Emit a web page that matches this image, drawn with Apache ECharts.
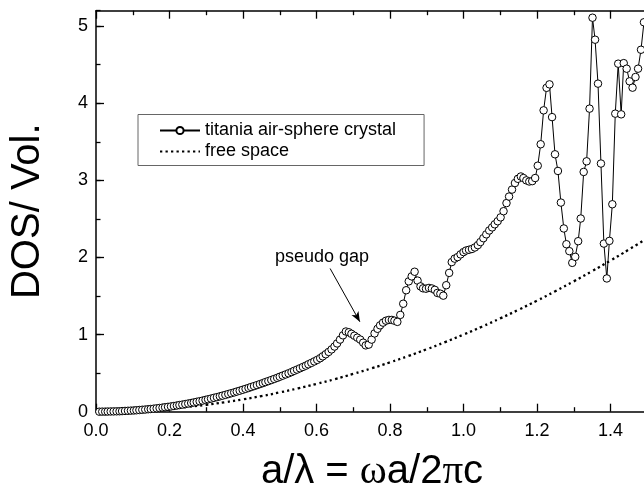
<!DOCTYPE html>
<html><head><meta charset="utf-8">
<script src="https://cdn.jsdelivr.net/npm/echarts@6/dist/echarts.min.js"></script>
<style>html,body{margin:0;padding:0;background:#fff}#c{width:644px;height:490px}</style>
</head><body><div id="c"></div>
<script>
// titania air-sphere crystal: normalized frequency a/lambda and DOS per volume
const freqCrystal = [
0.009,0.017,0.025,0.032,0.040,0.048,0.056,0.064,0.071,0.079,
0.087,0.095,0.103,0.110,0.118,0.126,0.134,0.142,0.149,0.157,
0.165,0.173,0.181,0.188,0.196,0.204,0.212,0.220,0.227,0.235,
0.243,0.251,0.259,0.266,0.274,0.282,0.290,0.298,0.305,0.313,
0.321,0.329,0.337,0.344,0.352,0.360,0.368,0.376,0.383,0.391,
0.399,0.407,0.415,0.422,0.430,0.438,0.446,0.454,0.461,0.469,
0.477,0.485,0.493,0.500,0.508,0.516,0.524,0.532,0.539,0.547,
0.555,0.563,0.571,0.578,0.586,0.594,0.602,0.610,0.617,0.625,
0.633,0.641,0.649,0.656,0.664,0.672,0.680,0.688,0.695,0.703,
0.711,0.719,0.727,0.734,0.742,0.750,0.758,0.766,0.773,0.781,
0.789,0.797,0.805,0.812,0.820,0.828,0.836,0.844,0.851,0.859,
0.867,0.875,0.883,0.890,0.898,0.906,0.914,0.922,0.929,0.937,
0.945,0.953,0.961,0.968,0.976,0.984,0.992,1.000,1.007,1.015,
1.023,1.031,1.039,1.046,1.054,1.062,1.070,1.078,1.085,1.093,
1.101,1.109,1.117,1.124,1.132,1.140,1.148,1.156,1.163,1.171,
1.179,1.187,1.195,1.202,1.210,1.218,1.226,1.234,1.241,1.249,
1.257,1.265,1.273,1.280,1.288,1.296,1.304,1.312,1.319,1.327,
1.335,1.343,1.351,1.358,1.366,1.374,1.382,1.390,1.397,1.405,
1.413,1.421,1.429,1.436,1.444,1.452,1.460,1.468,1.475,1.483,
1.491];
const dosCrystal = [
0.000,0.001,0.001,0.002,0.003,0.004,0.005,0.006,0.008,0.010,
0.012,0.014,0.016,0.019,0.022,0.025,0.028,0.032,0.035,0.039,
0.044,0.048,0.053,0.058,0.063,0.068,0.074,0.080,0.086,0.092,
0.099,0.106,0.113,0.120,0.128,0.136,0.144,0.153,0.161,0.170,
0.180,0.189,0.199,0.208,0.218,0.229,0.240,0.250,0.261,0.272,
0.284,0.296,0.308,0.320,0.332,0.345,0.358,0.371,0.384,0.397,
0.411,0.425,0.439,0.453,0.468,0.483,0.498,0.514,0.530,0.546,
0.563,0.580,0.597,0.615,0.633,0.652,0.672,0.694,0.718,0.745,
0.775,0.808,0.845,0.885,0.935,0.990,1.040,1.030,1.010,0.985,
0.960,0.935,0.895,0.860,0.870,0.935,1.015,1.075,1.120,1.155,
1.180,1.190,1.190,1.180,1.165,1.255,1.400,1.575,1.690,1.755,
1.815,1.700,1.625,1.600,1.595,1.605,1.598,1.580,1.540,1.530,
1.505,1.640,1.800,1.940,1.985,2.005,2.040,2.070,2.090,2.100,
2.110,2.130,2.160,2.200,2.250,2.300,2.350,2.390,2.430,2.470,
2.520,2.600,2.705,2.790,2.880,2.965,3.020,3.050,3.030,3.000,
2.985,2.990,3.030,3.190,3.468,3.908,4.200,4.245,3.820,3.338,
3.122,2.712,2.376,2.172,2.082,1.930,2.008,2.211,2.505,3.109,
3.247,3.930,5.109,4.824,4.254,3.218,2.180,1.728,2.215,2.690,
3.865,4.513,3.856,4.520,4.448,4.284,4.202,4.340,4.448,4.694,
5.050];
// free space DOS (dotted curve)
const freqFree = [0,0.05,0.10,0.15,0.20,0.25,0.30,0.35,0.40,0.45,0.50,0.55,0.60,0.65,0.70,0.75,0.80,0.85,0.90,0.95,1.00,1.05,1.10,1.15,1.20,1.25,1.30,1.35,1.40,1.45,1.50];
const dosFree = [0,0.0025,0.010,0.0225,0.040,0.0625,0.090,0.1225,0.160,0.2025,0.250,0.3025,0.360,0.4225,0.490,0.5625,0.640,0.7225,0.810,0.9025,1.000,1.1025,1.210,1.3225,1.440,1.5625,1.690,1.8225,1.960,2.1025,2.250];
const seriesNames = ['titania air-sphere crystal', 'free space'];
const xTickLabels = ['0.0','0.2','0.4','0.6','0.8','1.0','1.2','1.4'];
const yTickLabels = ['0','1','2','3','4','5'];
const annotationText = 'pseudo gap';
const arrowFrom = [0.637, 1.857];
const arrowTo = [0.718, 1.166];

const FONT = 'Liberation Sans';
const chart = echarts.init(document.getElementById('c'), null, {renderer: 'canvas'});
const crystalData = freqCrystal.map((x, i) => [x, dosCrystal[i]]);
const freeData = freqFree.map((x, i) => [x, dosFree[i]]);

const lineAx = {show: true, onZero: false, lineStyle: {color: '#000', width: 1.5}};
function xAx(extra) {
  return Object.assign({
    type: 'value', min: 0, max: 1.6, interval: 0.2,
    axisLine: lineAx,
    axisTick: {show: true, inside: true, length: 8, lineStyle: {color: '#000', width: 1.3}},
    minorTick: {show: true, splitNumber: 2, length: 4.5, lineStyle: {color: '#000', width: 1.3}},
    splitLine: {show: false}, minorSplitLine: {show: false}
  }, extra);
}
const option = {
  animation: false,
  backgroundColor: '#fff',
  grid: {left: 96, top: 10.7, width: 588, height: 401, containLabel: false, outerBoundsMode: 'none'},
  xAxis: [
    xAx({
      position: 'bottom',
      axisLabel: {show: true, color: '#000', fontFamily: FONT, fontSize: 18, margin: 10,
        formatter: v => { const s = v.toFixed(1); return xTickLabels.indexOf(s) >= 0 ? s : ''; }},
      name: '{t|a/λ = }{s|ω}{t|a/2}{s|π}{t|c}',
      nameLocation: 'middle', nameGap: 40,
      nameTextStyle: {padding: [0, 36, 0, 0], rich: {
        t: {fontFamily: FONT, fontSize: 40, color: '#000'},
        s: {fontFamily: 'Liberation Serif', fontSize: 41, color: '#000'}
      }}
    }),
    xAx({position: 'top', axisLabel: {show: false}})
  ],
  yAxis: [
    {
      type: 'value', min: 0, max: 5.2, interval: 1, position: 'left',
      axisLine: lineAx,
      axisTick: {show: true, inside: true, length: 8, lineStyle: {color: '#000', width: 1.3}},
      splitLine: {show: false},
      axisLabel: {show: true, color: '#000', fontFamily: FONT, fontSize: 18, margin: 8, showMaxLabel: false,
        formatter: v => { const s = String(Math.round(v * 10) / 10); return yTickLabels.indexOf(s) >= 0 ? s : ''; }},
      name: 'DOS/ Vol.', nameLocation: 'middle', nameGap: 48,
      nameTextStyle: {fontFamily: FONT, fontSize: 40, color: '#000'}
    },
    {
      type: 'value', min: 0, max: 5.2, interval: 0.5, position: 'left', offset: 0,
      axisLine: {show: false},
      axisTick: {show: true, inside: true, length: 4.5, lineStyle: {color: '#000', width: 1.3}},
      axisLabel: {show: false}, splitLine: {show: false}
    }
  ],
  legend: {
    orient: 'vertical', left: 138, top: 114.5,
    itemWidth: 40, itemHeight: 9, itemGap: 3,
    padding: [7, 28, 5, 21],
    borderColor: '#666', borderWidth: 1, borderRadius: 0,
    backgroundColor: '#fff',
    textStyle: {fontFamily: FONT, fontSize: 18, color: '#000'},
    data: [
      {name: seriesNames[0]},
      {name: seriesNames[1], itemStyle: {opacity: 0, borderWidth: 0}}
    ]
  },
  series: [
    {
      name: seriesNames[1], type: 'line', data: freeData, smooth: true,
      symbol: 'none', showSymbol: false,
      lineStyle: {color: '#000', width: 2.3, type: [2.3, 3.2]},
      itemStyle: {color: '#000'}, z: 2
    },
    {
      name: seriesNames[0], type: 'line', data: crystalData,
      symbol: 'circle', symbolSize: 7.5, showAllSymbol: true,
      itemStyle: {color: '#fff', borderColor: '#000', borderWidth: 1},
      lineStyle: {color: '#000', width: 1}, z: 3,
      markLine: {
        silent: true, animation: false,
        symbol: ['none', 'arrow'], symbolSize: [6, 10],
        lineStyle: {color: '#000', width: 1, type: 'solid'},
        itemStyle: {color: '#000'},
        label: {show: false},
        emphasis: {disabled: true},
        data: [[{coord: arrowFrom}, {coord: arrowTo}]]
      }
    }
  ],
  graphic: [{
    type: 'text', left: 275, top: 248, silent: true,
    style: {text: annotationText, fontFamily: FONT, fontSize: 18, fill: '#000'}
  }]
};
chart.setOption(option);
</script></body></html>
